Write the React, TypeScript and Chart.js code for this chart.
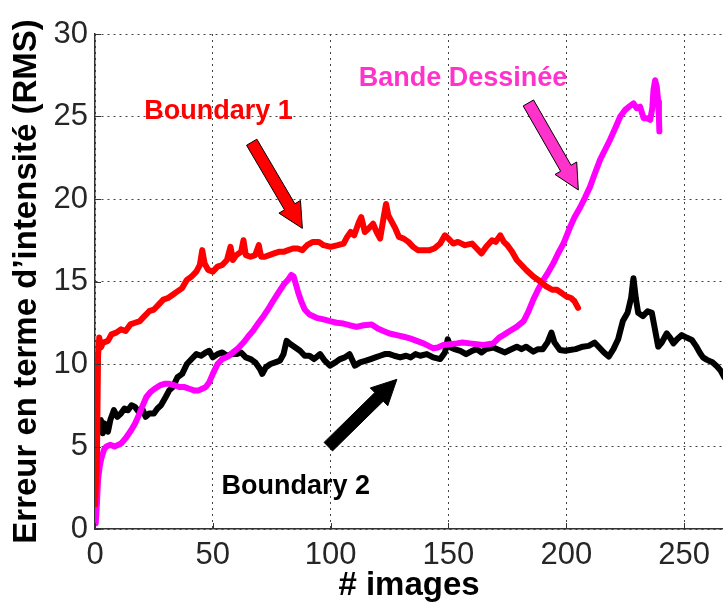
import React, { useEffect, useRef } from "react";
import { Chart, registerables } from "chart.js";

Chart.register(...registerables);

// ---------- data ----------
const xTickValues = [0, 50, 100, 150, 200, 250];
const yTickValues = [0, 5, 10, 15, 20, 25, 30];
const xMin = 0;
const xMax = 266.5;
const yMin = 0;
const yMax = 30;

const xTitle = "# images";
const yTitle = "Erreur en terme d’intensité (RMS)";

const seriesNames = ["Boundary 1", "Bande Dessinée", "Boundary 2"];

const boundary1X = [0, 0.8, 1.3, 1.8, 2.5, 3.5, 5.5, 7, 9, 11, 13, 15, 17, 19, 21, 23, 25, 27, 29, 31, 33, 35, 37, 39, 41, 43, 44.5, 45.5, 46.5, 48, 50, 52, 54, 56, 57.5, 58.5, 60, 62, 63, 64, 66, 68, 69.5, 70.5, 72, 74, 76, 78, 80, 82, 84, 86, 88, 90, 92.5, 95, 97, 100, 103, 105.5, 107, 108.5, 110, 112, 113, 114.5, 116, 118, 119.5, 121, 122.5, 123.5, 124.5, 126, 127.5, 129, 131, 133, 135, 137, 140, 142, 144, 146.5, 148.5, 150, 152, 154, 157, 160, 162, 164, 166, 168.5, 170, 172, 173.5, 175, 177, 179, 181, 183, 186, 189, 191.5, 194, 196, 198, 200, 202, 203.5, 205];
const boundary1Y = [1.5, 4, 10.5, 11.6, 11.0, 11.3, 11.4, 11.8, 11.9, 12.1, 12.0, 12.4, 12.5, 12.6, 12.9, 13.2, 13.3, 13.6, 13.9, 14.0, 14.2, 14.4, 14.6, 15.1, 15.3, 15.6, 16.0, 16.9, 16.1, 15.7, 15.6, 15.9, 16.0, 16.3, 17.1, 16.3, 16.6, 16.8, 17.5, 16.6, 16.5, 16.6, 17.2, 16.5, 16.5, 16.6, 16.7, 16.8, 16.8, 16.9, 17.0, 17.0, 16.9, 17.2, 17.4, 17.4, 17.2, 17.1, 17.2, 17.3, 17.7, 18.0, 17.8, 18.6, 18.9, 18.0, 18.2, 18.5, 18.0, 17.6, 18.9, 19.7, 19.0, 18.6, 18.2, 17.7, 17.6, 17.4, 17.1, 16.9, 16.9, 16.9, 17.0, 17.3, 17.8, 17.6, 17.3, 17.4, 17.2, 17.3, 17.0, 16.7, 17.1, 17.5, 17.4, 17.8, 17.4, 17.2, 16.8, 16.3, 16.0, 15.7, 15.3, 15.0, 14.7, 14.5, 14.5, 14.3, 14.1, 14.0, 13.8, 13.4];

const bandeX = [0.3, 0.8, 1.3, 2, 2.7, 3.8, 4.8, 6.5, 8.3, 10, 11.2, 13, 15.4, 17, 18.3, 20, 21.8, 23.5, 25.3, 27.5, 29.5, 31.5, 33.8, 36, 38, 40, 42, 44, 45.5, 47, 48.5, 50, 52, 54, 56.5, 58.5, 60.7, 63, 64.9, 67, 69.2, 71.5, 73.4, 75.5, 77.7, 80, 81.9, 83.3, 84.3, 85.3, 86.3, 87.5, 89, 91, 94, 97, 99.7, 102.5, 105.4, 108, 111, 114, 117.4, 120, 122.4, 125, 128.1, 131, 133.7, 136.5, 139.4, 141.5, 143.6, 145.5, 147.8, 150.5, 153.5, 156, 159.1, 162, 164.8, 167, 169, 171.5, 173.3, 176, 178.9, 181.9, 184, 186, 188, 190.3, 192.5, 194.5, 196.5, 198.8, 201.6, 203.5, 205.9, 208, 210.1, 212, 214.4, 216.5, 218.6, 220.8, 222.9, 225, 227.1, 228.5, 229.9, 231.3, 232.8, 234.2, 235.6, 236.5, 237, 237.7, 238.4, 239, 239.3, 239.5];
const bandeY = [0.35, 1.5, 3.0, 3.8, 4.3, 4.8, 5.0, 5.1, 5.0, 5.1, 5.2, 5.5, 6.0, 6.4, 6.8, 7.4, 8.0, 8.3, 8.5, 8.7, 8.8, 8.8, 8.7, 8.6, 8.6, 8.5, 8.4, 8.4, 8.5, 8.6, 8.9, 9.4, 10.0, 10.3, 10.45, 10.7, 10.95, 11.3, 11.65, 12.0, 12.45, 12.9, 13.3, 13.8, 14.3, 14.8, 15.1, 15.4, 15.3, 14.8, 14.3, 13.8, 13.3, 13.0, 12.8, 12.7, 12.6, 12.5, 12.45, 12.35, 12.25, 12.35, 12.4, 12.15, 12.0, 11.85, 11.75, 11.65, 11.55, 11.4, 11.25, 11.1, 10.95, 11.0, 11.15, 11.2, 11.25, 11.3, 11.25, 11.2, 11.15, 11.2, 11.25, 11.6, 11.75, 12.0, 12.25, 12.6, 13.2, 13.9, 14.5, 15.1, 15.6, 16.1, 16.7, 17.3, 18.3, 18.9, 19.5, 20.1, 20.75, 21.5, 22.4, 23.0, 23.6, 24.3, 25.0, 25.4, 25.65, 25.8, 25.5, 25.6, 24.9, 24.9, 24.8, 25.5, 26.6, 27.2, 26.8, 25.9, 25.0, 24.1];

const boundary2X = [2.5, 3.3, 4, 5.5, 6.5, 8, 9.5, 11, 12.5, 14, 15.5, 17, 18.5, 20, 21.5, 23, 25, 26.5, 28, 30, 31.5, 33, 35, 37, 39, 41, 43, 45, 47, 48.5, 50, 52, 54, 56, 58, 60, 62, 64, 66, 68, 70, 71, 72.5, 74.5, 76.5, 78.5, 80, 81.3, 83, 85, 87, 89, 91, 93, 95.5, 97.5, 99.7, 102, 104, 106, 108, 110.3, 112.5, 115, 117, 119, 121, 123, 125, 127, 129.5, 132, 134, 136, 138, 140.8, 143.5, 146.5, 148.5, 149.7, 151, 152.5, 155, 157.5, 160, 162, 164, 166, 169, 171.5, 174, 176, 179, 181, 183, 186, 188, 190, 192, 193.7, 195, 197.3, 199.5, 201.5, 204, 207, 209.5, 212, 214, 216, 218, 220, 222, 224, 226, 227.5, 228.5, 229.5, 230.5, 232.5, 234.5, 236.3, 237.5, 239, 240.5, 242.6, 244, 245.5, 247, 249, 251, 253.3, 255, 256.8, 258, 259.7, 262, 264, 265.5, 267];
const boundary2Y = [6.6, 5.8, 6.4, 5.9, 6.6, 7.2, 6.8, 7.0, 7.3, 7.2, 7.5, 7.4, 7.1, 7.3, 6.8, 7.0, 7.0, 7.3, 7.5, 8.0, 8.4, 8.6, 9.2, 9.4, 10.0, 10.3, 10.6, 10.5, 10.7, 10.8, 10.4, 10.6, 10.7, 10.5, 10.6, 10.6, 10.7, 10.4, 10.3, 10.1, 9.7, 9.4, 9.8, 10.0, 10.1, 10.2, 10.6, 11.4, 11.2, 11.0, 10.8, 10.5, 10.5, 10.3, 10.6, 10.2, 9.9, 10.1, 10.3, 10.4, 10.6, 9.9, 10.1, 10.2, 10.3, 10.4, 10.5, 10.6, 10.6, 10.5, 10.4, 10.5, 10.4, 10.6, 10.5, 10.6, 10.4, 10.3, 10.7, 11.5, 11.0, 10.9, 10.8, 10.6, 10.8, 10.9, 10.7, 10.9, 11.0, 10.85, 10.7, 10.85, 11.05, 10.9, 11.05, 10.75, 10.9, 10.9, 11.3, 11.9, 11.3, 10.85, 10.8, 10.85, 10.9, 11.05, 11.1, 11.3, 11.0, 10.7, 10.45, 10.9, 11.5, 12.6, 13.1, 14.0, 15.2, 14.0, 13.1, 12.9, 13.2, 13.1, 12.2, 11.05, 11.3, 11.85, 11.6, 11.25, 11.5, 11.75, 11.6, 11.45, 11.1, 10.65, 10.4, 10.25, 10.1, 9.85, 9.6, 9.2];

// annotation labels (data coordinates)
const labelTexts = ["Boundary 1", "Bande Dessinée", "Boundary 2"];
const labelX = [52.4, 156.2, 85.2];
const labelY = [25.3, 27.27, 2.55];
const labelColors = ["#ff0000", "#ff33cc", "#000000"];

// arrows: tail -> tip (data coordinates)
const arrowTailX = [66.5, 183.9, 99.0];
const arrowTailY = [23.44, 25.82, 4.99];
const arrowTipX = [88.0, 205.1, 128.1];
const arrowTipY = [18.22, 20.55, 9.07];
const arrowFill = ["#ff0000", "#ff33cc", "#000000"];

const zip = (xs: number[], ys: number[]) => xs.map((x, i) => ({ x, y: ys[i] }));

const annotationPlugin = {
  id: "annotations",
  afterDatasetsDraw(chart: any) {
    const { ctx, scales, chartArea } = chart;
    const xs = scales.x;
    const ys = scales.y;
    ctx.save();
    // inward tick marks
    ctx.strokeStyle = "#333";
    ctx.lineWidth = 1;
    ctx.beginPath();
    yTickValues.forEach((v) => {
      const py = Math.round(ys.getPixelForValue(v)) + 0.5;
      ctx.moveTo(chartArea.left, py);
      ctx.lineTo(chartArea.left + 6, py);
    });
    xTickValues.forEach((v) => {
      const px = Math.round(xs.getPixelForValue(v)) + 0.5;
      ctx.moveTo(px, chartArea.bottom);
      ctx.lineTo(px, chartArea.bottom - 6);
    });
    ctx.stroke();

    // arrows
    arrowTailX.forEach((_, i) => {
      const tx = xs.getPixelForValue(arrowTailX[i]);
      const ty = ys.getPixelForValue(arrowTailY[i]);
      const hx = xs.getPixelForValue(arrowTipX[i]);
      const hy = ys.getPixelForValue(arrowTipY[i]);
      const dx = hx - tx;
      const dy = hy - ty;
      const len = Math.hypot(dx, dy);
      const ux = dx / len;
      const uy = dy / len;
      const nx = -uy;
      const ny = ux;
      const headLen = 25;
      const sw = 6;
      const hw = 12.5;
      const bx = hx - ux * headLen;
      const by = hy - uy * headLen;
      ctx.beginPath();
      ctx.moveTo(tx + nx * sw, ty + ny * sw);
      ctx.lineTo(bx + nx * sw, by + ny * sw);
      ctx.lineTo(bx + nx * hw, by + ny * hw);
      ctx.lineTo(hx, hy);
      ctx.lineTo(bx - nx * hw, by - ny * hw);
      ctx.lineTo(bx - nx * sw, by - ny * sw);
      ctx.lineTo(tx - nx * sw, ty - ny * sw);
      ctx.closePath();
      ctx.fillStyle = arrowFill[i];
      ctx.fill();
      ctx.strokeStyle = "#000";
      ctx.lineWidth = 1;
      ctx.stroke();
    });

    // labels
    ctx.font = "bold 27px 'Liberation Sans', Arial, sans-serif";
    ctx.textAlign = "center";
    ctx.textBaseline = "middle";
    labelTexts.forEach((t, i) => {
      ctx.fillStyle = labelColors[i];
      ctx.fillText(t, xs.getPixelForValue(labelX[i]), ys.getPixelForValue(labelY[i]));
    });
    ctx.restore();
  },
};

export default function App() {
  const canvasRef = useRef<HTMLCanvasElement | null>(null);

  useEffect(() => {
    document.body.style.margin = "0";
    const canvas = canvasRef.current;
    if (!canvas) return;
    const chart = new Chart(canvas, {
      type: "line",
      data: {
        datasets: [
          {
            label: seriesNames[0],
            data: zip(boundary1X, boundary1Y),
            borderColor: "#ff0000",
            order: 0,
          },
          {
            label: seriesNames[1],
            data: zip(bandeX, bandeY),
            borderColor: "#ff00ff",
            order: 1,
          },
          {
            label: seriesNames[2],
            data: zip(boundary2X, boundary2Y),
            borderColor: "#000000",
            order: 2,
          },
        ],
      },
      options: {
        animation: false,
        responsive: false,
        devicePixelRatio: 1,
        parsing: true,
        elements: {
          point: { radius: 0 },
          line: {
            borderWidth: 6,
            tension: 0,
            borderJoinStyle: "round",
            borderCapStyle: "round",
            fill: false,
          },
        },
        layout: { padding: { top: 34, left: 0, right: 0, bottom: 0 } },
        plugins: {
          legend: { display: false },
          tooltip: { enabled: false },
        },
        scales: {
          x: {
            type: "linear",
            min: xMin,
            max: xMax,
            afterBuildTicks: (s: any) => {
              s.ticks = xTickValues.map((v) => ({ value: v }));
            },
            afterFit: (s: any) => {
              s.height = 74;
            },
            ticks: {
              padding: 8,
              color: "#262626",
              font: { family: "'Liberation Sans', Arial, sans-serif", size: 31 },
              maxRotation: 0,
            },
            grid: { color: "#444", lineWidth: 1, drawTicks: false },
            border: { display: true, color: "#333", width: 1.5, dash: [2, 4] },
            title: {
              display: true,
              text: xTitle,
              color: "#000",
              font: { family: "'Liberation Sans', Arial, sans-serif", size: 33, weight: "bold", lineHeight: 1 },
              padding: { top: 0, bottom: 1 },
            },
          },
          y: {
            type: "linear",
            min: yMin,
            max: yMax,
            afterBuildTicks: (s: any) => {
              s.ticks = yTickValues.map((v) => ({ value: v }));
            },
            afterFit: (s: any) => {
              s.width = 95;
            },
            ticks: {
              padding: 7,
              color: "#262626",
              font: { family: "'Liberation Sans', Arial, sans-serif", size: 31 },
            },
            grid: { color: "#444", lineWidth: 1, drawTicks: false },
            border: { display: true, color: "#333", width: 1.5, dash: [2, 4] },
            title: {
              display: true,
              text: yTitle,
              color: "#000",
              font: { family: "'Liberation Sans', Arial, sans-serif", size: 33, weight: "bold", lineHeight: 1 },
              padding: { top: 10, bottom: 0 },
            },
          },
        },
      },
      plugins: [annotationPlugin],
    } as any);
    return () => chart.destroy();
  }, []);

  return (
    <div style={{ width: 723, height: 603, overflow: "hidden", background: "#fff" }}>
      <canvas ref={canvasRef} width={723} height={603} style={{ display: "block" }} />
    </div>
  );
}
